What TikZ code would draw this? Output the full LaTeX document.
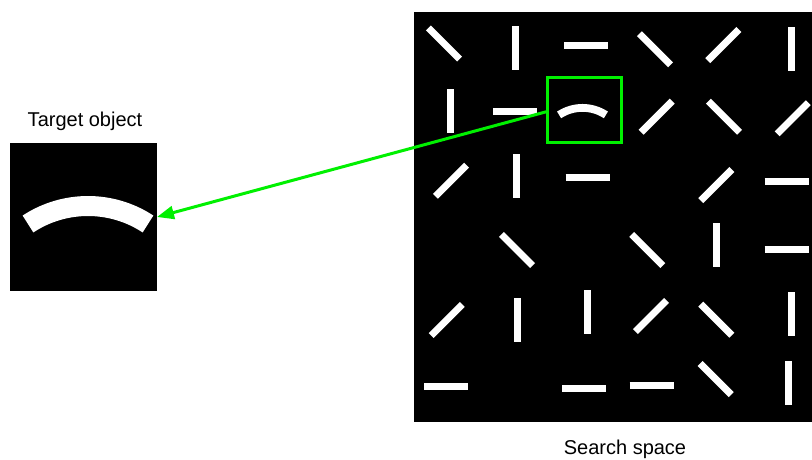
\documentclass[tikz,border=0pt]{standalone}
\usepackage{fontspec}
\setmainfont{Liberation Sans}
\usetikzlibrary{arrows.meta}
\definecolor{hitgreen}{RGB}{0,240,0}
\begin{document}
\begin{tikzpicture}[x=1pt,y=-1pt,
  panel/.style={fill=black, draw=none, inner sep=0pt, outer sep=0pt},
  bar/.style={draw=white, line width=7pt, line cap=butt},
  curve/.style={draw=white, line cap=butt},
  caption/.style={font=\fontsize{20}{24}\selectfont, anchor=base, inner sep=0pt},
  framebox/.style={draw=hitgreen, line width=3.3pt, inner sep=0pt},
  pointer/.style={draw=hitgreen, line width=3pt, -{Triangle[length=17pt,width=13pt]}}]
% canvas
\path[use as bounding box, fill=white] (0,0) rectangle (812,459);

% the two image panels
\node[panel, minimum width=147pt, minimum height=148pt] (target) at (83.5,217) {};
\node[panel, minimum width=398pt, minimum height=410pt] (space) at (613,217) {};

% arc-shaped object in the target panel
\draw[curve, line width=20pt] (28,224) arc[start angle=236.6, end angle=303.4, radius=109];

% distractor bars: centre x / centre y / angle
\foreach \x/\y/\a in {
  444/43.5/45, 515/48/90, 586.3/45.7/0, 655/49.3/45, 723.3/45/-45, 791/49/90,
  450.7/111/90, 515/111/0, 656.7/116.7/-45, 724/116.7/45, 792.7/118.3/-45,
  451/180.7/-45, 516/176.3/90, 587.7/177.7/0, 716.3/185/-45, 786.7/181/0,
  517/250/45, 647.3/250/45, 716/245.3/90, 786.7/249/0,
  446.7/320/-45, 517.3/320.3/90, 587.7/312/90, 651/316/-45, 716.3/319.7/45, 791/314.3/90,
  446/386.7/0, 584/388.3/0, 651.7/385.7/0, 715.7/379/45, 788.7/383.3/90}
  \draw[bar] (\x,\y) ++(\a+180:22) -- ++(\a:44);

% the matching arc in the search panel
\draw[curve, line width=7.8pt] (559.1,114.9) arc[start angle=236.6, end angle=303.4, radius=42.5];

% highlight frame and pointer
\node[framebox, minimum width=74pt, minimum height=65pt] (match) at (584.7,109.8) {};
\draw[pointer] ([yshift=-2pt]match.west) -- (target.east);

% captions
\node[caption] (tlabel) at (85,126) {Target object};
\node[caption] (slabel) at (625,454) {Search space};
\end{tikzpicture}
\end{document}
